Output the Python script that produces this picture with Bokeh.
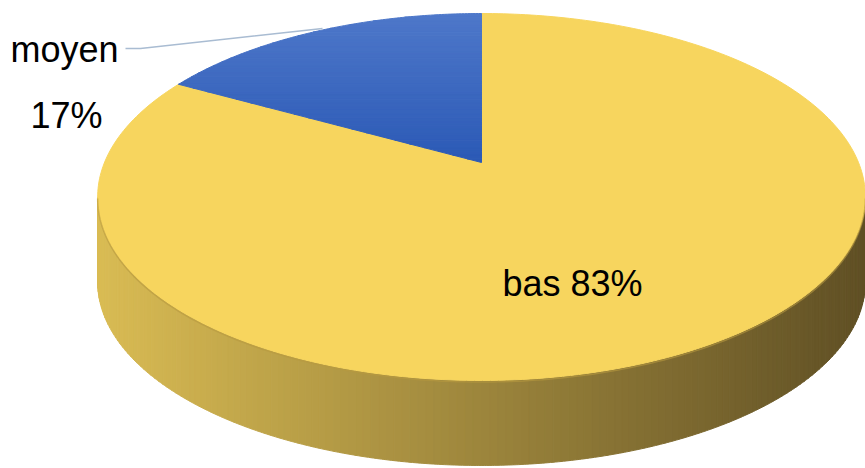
import numpy as np
from bokeh.plotting import figure
from bokeh.models import Range1d
from bokeh.core.properties import value
from bokeh.embed import file_html
from bokeh.resources import INLINE

# ---- data ----
categories = ["bas", "moyen"]
values = [83, 17]
label_texts = ["bas 83%", "moyen", "17%"]

# ---- geometry (screen pixels, y downward) ----
W, H = 865, 468
X0, Y0 = 481.0, 162.0      # projected pie centre
A, B, K = 377.0, 177.0, 0.188   # perspective ellipse params
DEPTH = 85.0

def proj(t, dz=0.0):
    u, v = np.cos(t), np.sin(t)
    w = 1.0 + K * v
    return X0 + A * u / w, Y0 - B * v / w + dz

def clip_band(px, py, ylo, yhi):
    """Clip convex polygon to ylo <= y <= yhi (Sutherland-Hodgman)."""
    pts = list(zip(px, py))
    for keep, yc in ((lambda y: y >= ylo, ylo), (lambda y: y <= yhi, yhi)):
        out = []
        n = len(pts)
        for i in range(n):
            cx, cy = pts[i]
            nx, ny = pts[(i + 1) % n]
            cin, nin = keep(cy), keep(ny)
            if cin:
                out.append((cx, cy))
            if cin != nin and ny != cy:
                f = (yc - cy) / (ny - cy)
                out.append((cx + f * (nx - cx), yc))
        pts = out
        if not pts:
            break
    return [q[0] for q in pts], [q[1] for q in pts]

p = figure(width=W, height=H, output_backend="svg", toolbar_location=None,
           x_range=Range1d(0, W), y_range=Range1d(H, 0), min_border=0,
           background_fill_color="white", border_fill_color="white")
p.axis.visible = False
p.grid.visible = False
p.outline_line_color = None

# slice angles: start at 12 o'clock, first slice "moyen" counter-clockwise
total = float(sum(values))
frac_moyen = values[categories.index("moyen")] / total
a0 = np.pi / 2
a1 = a0 + 2 * np.pi * frac_moyen
a2 = a0 + 2 * np.pi

# ---- side (front wall) with horizontal gradient ----
t_left = np.pi + np.arcsin(K)
t_right = 2 * np.pi - np.arcsin(K)
N = 160
ts = np.linspace(t_left, t_right, N + 1)
xs_side, ys_side, cols = [], [], []
c_left = np.array([218, 188, 84])
c_right = np.array([96, 80, 37])
xmin, xmax = X0 - A / np.sqrt(1 - K * K), X0 + A / np.sqrt(1 - K * K)
for i in range(N):
    tt = np.linspace(ts[i], ts[i + 1], 4)
    xt, yt = proj(tt)
    xb, yb = proj(tt[::-1], DEPTH)
    xs_side.append(list(np.concatenate([xt, xb])))
    ys_side.append(list(np.concatenate([yt, yb])))
    xm = xt.mean()
    f = (xm - xmin) / (xmax - xmin)
    c = (c_left * (1 - f) + c_right * f).astype(int)
    cols.append("#%02x%02x%02x" % tuple(c))
p.patches(xs_side, ys_side, fill_color=cols, line_color=cols, line_width=1)

# ---- top faces ----
tb = np.linspace(a1, a2, 300)
xb_, yb_ = proj(tb)
p.patch(list(np.concatenate([[X0], xb_])), list(np.concatenate([[Y0], yb_])),
        fill_color="#F7D55E", line_color="#F7D55E", line_width=1)

# subtle shading line along front top edge
tf = np.linspace(t_left, t_right, 200)
xf, yf = proj(tf)
p.line(list(xf), list(yf + 1.5), line_color="#B89A40", line_width=1.5, line_alpha=0.6)

# "moyen" slice with vertical gradient
tm = np.linspace(a0, a1, 120)
xm_, ym_ = proj(tm)
mx = list(np.concatenate([[X0], xm_]))
my = list(np.concatenate([[Y0], ym_]))
ytop, ybot = min(my), max(my)
NB = 40
edges = np.linspace(ytop, ybot, NB + 1)
ctop = np.array([78, 120, 202])
cbot = np.array([44, 90, 182])
bx, by, bc = [], [], []
for i in range(NB):
    cx_, cy_ = clip_band(mx, my, edges[i], edges[i + 1])
    if len(cx_) < 3:
        continue
    f = i / (NB - 1)
    c = (ctop * (1 - f) + cbot * f).astype(int)
    bx.append(cx_)
    by.append(cy_)
    bc.append("#%02x%02x%02x" % tuple(c))
p.patches(bx, by, fill_color=bc, line_color=bc, line_width=1)

# ---- leader line and labels ----
p.line([125, 140, 322], [48, 48, 28], line_color="#A9BCD2", line_width=1.5)

font = value("Liberation Sans")
p.text(x=[502], y=[283], text=[label_texts[0]], text_font=font,
       text_font_size="36px", text_color="black", text_baseline="alphabetic",
       text_align="left")
p.text(x=[10], y=[49], text=[label_texts[1]], text_font=font,
       text_font_size="36px", text_color="black", text_baseline="alphabetic",
       text_align="left")
p.text(x=[30], y=[115], text=[label_texts[2]], text_font=font,
       text_font_size="36px", text_color="black", text_baseline="alphabetic",
       text_align="left")

open("out.html", "w").write(file_html(p, INLINE))
